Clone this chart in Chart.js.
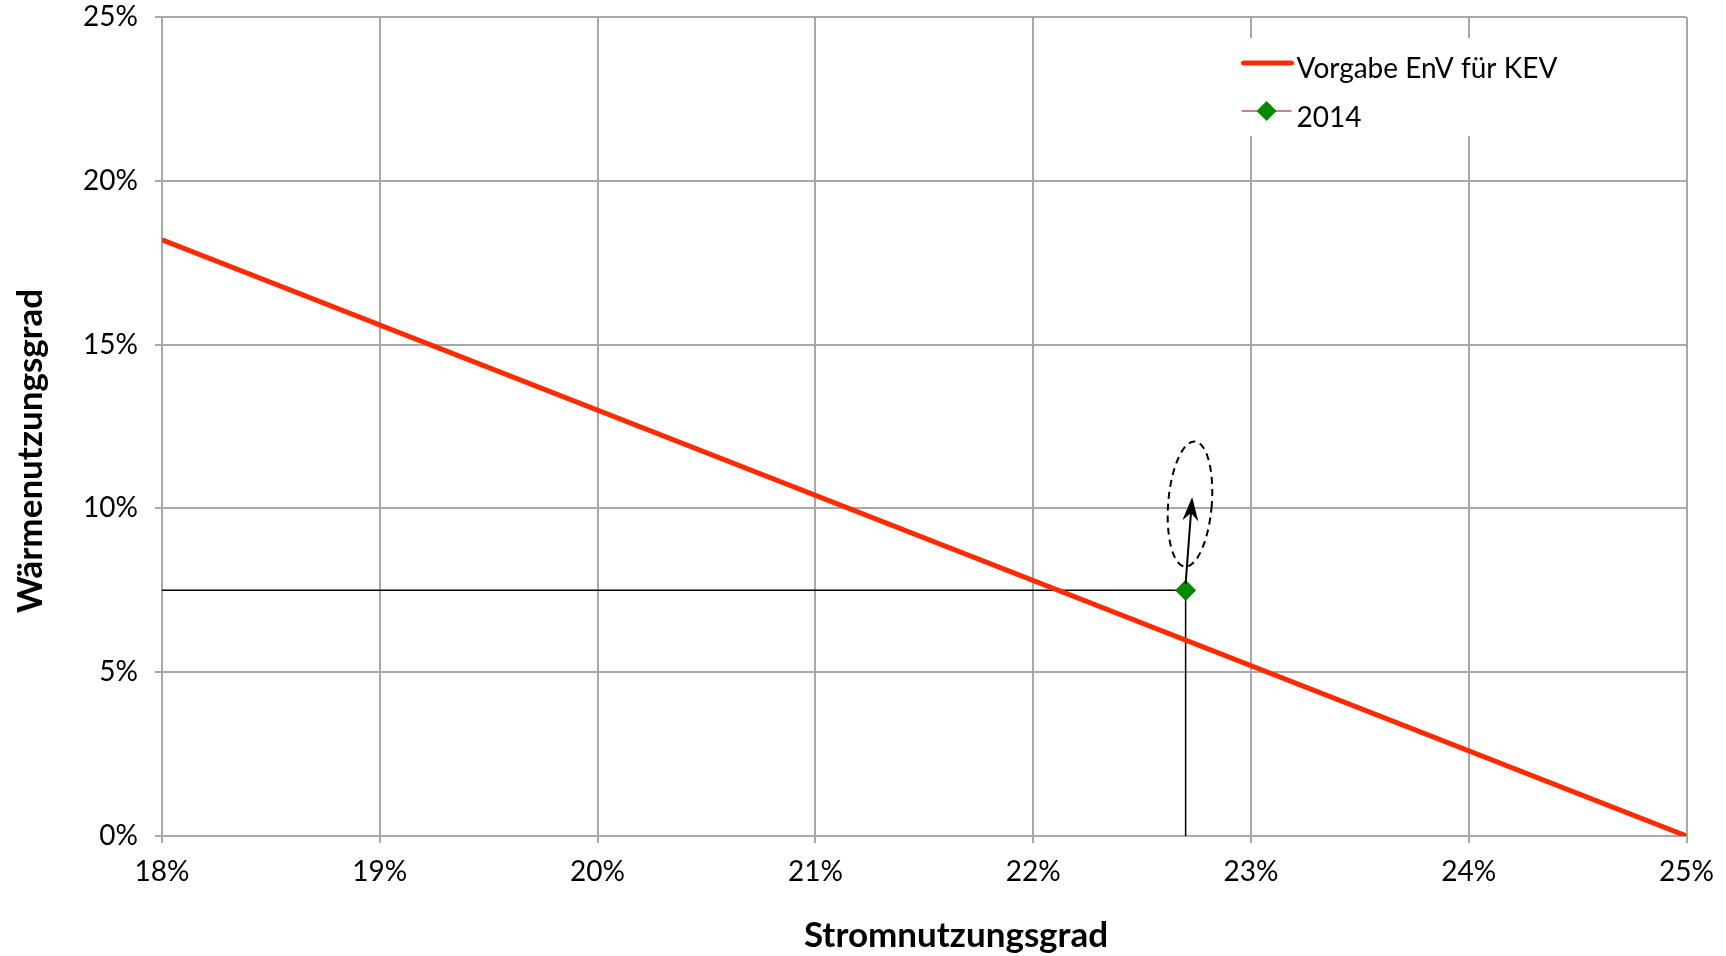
<!DOCTYPE html>
<html>
<head>
<meta charset="utf-8">
<title>Wärmenutzungsgrad / Stromnutzungsgrad</title>
<script src="https://cdn.jsdelivr.net/npm/chart.js@4.4.1/dist/chart.umd.min.js"></script>
<style>
  html, body { margin: 0; padding: 0; background: #fff; }
  #wrap { width: 1726px; height: 956px; }
</style>
</head>
<body>
<div id="wrap"><canvas id="chart" width="1726" height="956"></canvas></div>
<script>
// Werte in Prozent
const vorgabeStrom = [18, 25];       // Vorgabe EnV für KEV
const vorgabeWaerme = [18.2, 0];

const punktStrom = [22.7];           // 2014
const punktWaerme = [7.5];

const hilfStrom = [18, 22.7, 22.7];  // schwarze Hilfslinien zum Punkt
const hilfWaerme = [7.5, 7.5, 0];

const pfeilStrom = [22.7, 22.73];    // Pfeil nach oben
const pfeilWaerme = [7.7, 10.35];

const ellipseStrom = [22.62, 22.82]; // gestrichelte Ellipse (Ausdehnung)
const ellipseWaerme = [8.22, 12.05];

const xTicks = [18, 19, 20, 21, 22, 23, 24, 25];
const yTicks = [0, 5, 10, 15, 20, 25];

const xTitle = 'Stromnutzungsgrad';
const yTitle = 'Wärmenutzungsgrad';

const RED = '#ff2a00';
const GREEN = '#008a00';
const GRID = '#a8a8a8';

function toPoints(xs, ys) {
    return xs.map((x, i) => ({ x: x, y: ys[i] }));
}

// Pfeil und Ellipse
const annotations = {
    id: 'annotations',
    afterDatasetsDraw(chart) {
        const ctx = chart.ctx;
        const xs = chart.scales.x;
        const ys = chart.scales.y;

        // ellipse
        const x0 = xs.getPixelForValue(ellipseStrom[0]);
        const x1 = xs.getPixelForValue(ellipseStrom[1]);
        const y0 = ys.getPixelForValue(ellipseWaerme[0]);
        const y1 = ys.getPixelForValue(ellipseWaerme[1]);
        ctx.save();
        ctx.strokeStyle = '#000';
        ctx.lineWidth = 2;
        ctx.setLineDash([7, 5]);
        ctx.beginPath();
        ctx.ellipse((x0 + x1) / 2, (y0 + y1) / 2, Math.abs(x1 - x0) / 2, Math.abs(y1 - y0) / 2, 0.08, 0, Math.PI * 2);
        ctx.stroke();
        ctx.restore();

        // arrow
        const ax = xs.getPixelForValue(pfeilStrom[0]);
        const ay = ys.getPixelForValue(pfeilWaerme[0]);
        const bx = xs.getPixelForValue(pfeilStrom[1]);
        const by = ys.getPixelForValue(pfeilWaerme[1]);
        const ang = Math.atan2(by - ay, bx - ax);
        const len = 24, half = 8, notch = 16;
        ctx.save();
        ctx.strokeStyle = '#000';
        ctx.fillStyle = '#000';
        ctx.lineWidth = 2;
        ctx.beginPath();
        ctx.moveTo(ax, ay);
        ctx.lineTo(bx - Math.cos(ang) * notch, by - Math.sin(ang) * notch);
        ctx.stroke();
        ctx.translate(bx, by);
        ctx.rotate(ang);
        ctx.beginPath();
        ctx.moveTo(0, 0);
        ctx.lineTo(-len, -half);
        ctx.lineTo(-notch, 0);
        ctx.lineTo(-len, half);
        ctx.closePath();
        ctx.fill();
        ctx.restore();
    }
};

// Achsentitel (wie im Original leicht versetzt zur Zeichenfläche)
const axisTitles = {
    id: 'axisTitles',
    afterDraw(chart) {
        const ctx = chart.ctx;
        ctx.save();
        ctx.fillStyle = '#000';
        ctx.font = 'bold 35px Lato';
        ctx.textAlign = 'center';
        ctx.textBaseline = 'middle';
        ctx.fillText(xTitle, 956, 936);
        ctx.translate(31, 451);
        ctx.rotate(-Math.PI / 2);
        ctx.fillText(yTitle, 0, 0);
        ctx.restore();
    }
};

// Legende innerhalb der Zeichenfläche mit weissem Hintergrund
const boxLegend = {
    id: 'boxLegend',
    beforeDatasetsDraw(chart) {
        const ctx = chart.ctx;
        const area = chart.chartArea;
        const left = area.right - 450;
        const top = area.top + 21;
        ctx.save();
        ctx.fillStyle = '#fff';
        ctx.fillRect(left, top, 345, 98);

        // Vorgabe
        ctx.strokeStyle = RED;
        ctx.lineWidth = 5;
        ctx.lineCap = 'round';
        ctx.beginPath();
        ctx.moveTo(left + 7, top + 25);
        ctx.lineTo(left + 55, top + 25);
        ctx.stroke();

        // 2014
        ctx.strokeStyle = '#d08080';
        ctx.lineWidth = 2;
        ctx.lineCap = 'butt';
        ctx.beginPath();
        ctx.moveTo(left + 5, top + 73);
        ctx.lineTo(left + 55, top + 73);
        ctx.stroke();
        const cx = left + 30, cy = top + 73, r = 10;
        ctx.fillStyle = GREEN;
        ctx.beginPath();
        ctx.moveTo(cx - r, cy);
        ctx.lineTo(cx, cy - r);
        ctx.lineTo(cx + r, cy);
        ctx.lineTo(cx, cy + r);
        ctx.closePath();
        ctx.fill();

        ctx.fillStyle = '#000';
        ctx.font = '28px Lato';
        ctx.textBaseline = 'alphabetic';
        ctx.fillText(chart.data.datasets[0].label, left + 60, top + 40);
        ctx.fillText(chart.data.datasets[1].label, left + 60, top + 89);
        ctx.restore();
    }
};

const ctx = document.getElementById('chart').getContext('2d');

new Chart(ctx, {
    type: 'scatter',
    data: {
        datasets: [{
            label: 'Vorgabe EnV für KEV',
            data: toPoints(vorgabeStrom, vorgabeWaerme),
            showLine: true,
            borderColor: RED,
            borderWidth: 5,
            pointRadius: 0
        }, {
            label: '2014',
            data: toPoints(punktStrom, punktWaerme),
            showLine: false,
            pointStyle: 'rectRot',
            pointRadius: 10,
            pointBackgroundColor: GREEN,
            pointBorderColor: GREEN,
            pointBorderWidth: 1
        }, {
            label: 'Hilfslinien',
            data: toPoints(hilfStrom, hilfWaerme),
            showLine: true,
            borderColor: '#000',
            borderWidth: 1.5,
            pointRadius: 0
        }]
    },
    options: {
        responsive: false,
        animation: false,
        devicePixelRatio: 1,
        layout: { padding: { top: 0, right: 33, left: 0, bottom: 0 } },
        plugins: {
            legend: { display: false },
            tooltip: { enabled: false }
        },
        scales: {
            x: {
                type: 'linear',
                min: 18,
                max: 25,
                afterBuildTicks: (scale) => { scale.ticks = xTicks.map(v => ({ value: v })); },
                afterFit: (scale) => { scale.height = 120; },
                ticks: {
                    callback: (v) => v + '%',
                    color: '#000',
                    font: { family: 'Lato', size: 28 },
                    padding: 12,
                    maxRotation: 0
                },
                grid: { color: GRID, lineWidth: 2, tickLength: 7, tickColor: GRID },
                border: { color: GRID, width: 2 }
            },
            y: {
                type: 'linear',
                min: 0,
                max: 25,
                afterBuildTicks: (scale) => { scale.ticks = yTicks.map(v => ({ value: v })); },
                afterFit: (scale) => {
                    scale.width = 162;
                    scale.paddingTop = 17;
                    scale.paddingBottom = 17;
                },
                ticks: {
                    callback: (v) => v + '%',
                    color: '#000',
                    font: { family: 'Lato', size: 28 },
                    padding: 17
                },
                grid: { color: GRID, lineWidth: 2, tickLength: 7, tickColor: GRID },
                border: { color: GRID, width: 2 }
            }
        }
    },
    plugins: [boxLegend, annotations, axisTitles]
});
</script>
</body>
</html>
